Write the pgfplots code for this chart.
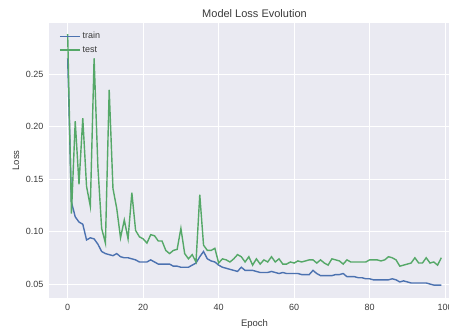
\documentclass[border=0pt]{standalone}
\usepackage{pgfplots}
\pgfplotsset{compat=1.18}
\usepackage{fontspec}
\setmainfont{Liberation Sans}
\definecolor{sbbg}{HTML}{EAEAF2}
\definecolor{sbblue}{HTML}{4C72B0}
\definecolor{sbgreen}{HTML}{55A868}
\definecolor{sbtext}{HTML}{3A3A3A}
\pgfplotstableread{
e train test
0 0.265 0.288
1 0.128 0.117
2 0.114 0.205
3 0.109 0.145
4 0.107 0.208
5 0.092 0.143
6 0.094 0.124
7 0.093 0.265
8 0.088 0.162
9 0.081 0.103
10 0.079 0.089
11 0.078 0.235
12 0.077 0.141
13 0.079 0.122
14 0.076 0.094
15 0.075 0.111
16 0.075 0.093
17 0.074 0.137
18 0.073 0.101
19 0.071 0.095
20 0.071 0.093
21 0.071 0.089
22 0.073 0.097
23 0.071 0.096
24 0.069 0.091
25 0.069 0.091
26 0.069 0.082
27 0.069 0.079
28 0.067 0.082
29 0.067 0.083
30 0.066 0.103
31 0.066 0.079
32 0.066 0.074
33 0.068 0.078
34 0.070 0.071
35 0.076 0.135
36 0.081 0.087
37 0.074 0.082
38 0.072 0.082
39 0.071 0.084
40 0.068 0.070
41 0.066 0.074
42 0.065 0.073
43 0.064 0.071
44 0.063 0.074
45 0.062 0.078
46 0.066 0.076
47 0.063 0.071
48 0.063 0.076
49 0.063 0.068
50 0.062 0.074
51 0.061 0.069
52 0.061 0.073
53 0.061 0.071
54 0.062 0.076
55 0.061 0.071
56 0.060 0.074
57 0.061 0.069
58 0.060 0.069
59 0.060 0.071
60 0.060 0.070
61 0.060 0.072
62 0.059 0.071
63 0.059 0.072
64 0.059 0.073
65 0.063 0.073
66 0.060 0.070
67 0.058 0.073
68 0.058 0.070
69 0.058 0.068
70 0.058 0.074
71 0.059 0.073
72 0.059 0.072
73 0.060 0.069
74 0.057 0.073
75 0.057 0.071
76 0.057 0.071
77 0.056 0.071
78 0.056 0.071
79 0.055 0.071
80 0.055 0.073
81 0.054 0.073
82 0.054 0.073
83 0.054 0.072
84 0.054 0.073
85 0.054 0.076
86 0.055 0.075
87 0.054 0.073
88 0.052 0.067
89 0.053 0.068
90 0.052 0.069
91 0.051 0.070
92 0.051 0.075
93 0.051 0.070
94 0.051 0.070
95 0.051 0.075
96 0.050 0.070
97 0.049 0.071
98 0.049 0.068
99 0.049 0.075
}\losstable
\begin{document}
\begin{tikzpicture}
\begin{axis}[
  scale only axis,
  width=411pt, height=275pt,
  xmin=-4.95, xmax=103.95,
  ymin=0.0367, ymax=0.2986,
  axis background/.style={fill=sbbg},
  axis line style={draw=none},
  tick style={draw=none},
  grid=major,
  major grid style={white, line width=0.9pt},
  xtick={0,20,40,60,80,100},
  xticklabels={0,20,40,60,80,100},
  ytick={0.05,0.10,0.15,0.20,0.25},
  yticklabels={0.05,0.10,0.15,0.20,0.25},
  ticklabel style={font=\fontsize{9}{10}\selectfont, text=sbtext},
  xticklabel style={yshift=-3pt},
  yticklabel style={xshift=-2pt},
  /pgf/number format/assume math mode=true,
  title={Model Loss Evolution},
  title style={at={(axis description cs:0.5,1)}, anchor=center, yshift=3pt, font=\fontsize{11}{12}\selectfont, text=sbtext},
  xlabel={Epoch},
  ylabel={Loss},
  xlabel style={at={(axis description cs:0.5,0)}, anchor=center, yshift=-26pt, font=\fontsize{9.5}{10}\selectfont, text=sbtext},
  every axis y label/.style={at={(axis description cs:-0.0803,0.5)}, anchor=center, rotate=90, font=\fontsize{9.5}{10}\selectfont, text=sbtext},
  legend style={at={(axis description cs:0,1)}, anchor=north west, draw=none, fill=none, font=\fontsize{9}{10}\selectfont, xshift=7pt, yshift=-5pt, row sep=2pt},
  legend cell align=left,
]
\addlegendimage{legend image code/.code={\draw[color=sbblue, line width=1.4pt] (0pt,0pt) -- (20pt,0pt);}}
\addlegendentry{\textcolor{sbtext}{train}}
\addlegendimage{legend image code/.code={\draw[color=sbgreen, line width=1.4pt] (0pt,0pt) -- (20pt,0pt);}}
\addlegendentry{\textcolor{sbtext}{test}}
\addplot[sbblue, line width=1.4pt, forget plot] table[x=e, y=train] {\losstable};
\addplot[sbgreen, line width=1.4pt, forget plot] table[x=e, y=test] {\losstable};
\end{axis}
\pgfresetboundingbox
\path[use as bounding box] (-49pt,-30pt) rectangle (400pt,298pt);
\end{tikzpicture}
\end{document}
